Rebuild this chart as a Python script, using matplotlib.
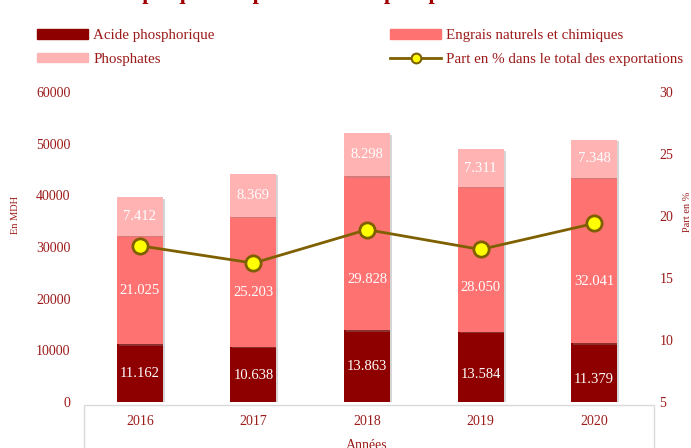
import numpy as np
import matplotlib.pyplot as plt
import matplotlib.patheffects as pe
from matplotlib.patches import Rectangle
from matplotlib.lines import Line2D

# ---- data ----
years = ["2016", "2017", "2018", "2019", "2020"]
acide = [11162, 10638, 13863, 13584, 11379]
engrais = [21025, 25203, 29828, 28050, 32041]
phosphates = [7412, 8369, 8298, 7311, 7348]
part_pct = [17.6, 16.2, 18.9, 17.3, 19.4]

labels = ["Acide phosphorique", "Engrais naturels et chimiques",
          "Phosphates", "Part en % dans le total des exportations"]

# label nudges (pixels, down = negative) - some labels were moved off the markers
nudge_acide = [0, -1, 0, -8, -7]
nudge_engrais = [0, -11, -26, -28, -21]
nudge_phos = [0, 0, 0, 0, 0]

# ---- style ----
plt.rcParams["font.family"] = ["Liberation Serif", "DejaVu Serif"]
TXT = "#9C1A1A"
C_ACIDE = "#8E0000"
C_ENGR = "#FF7272"
C_PHOS = "#FFB3B3"
C_LINE = "#7F6000"


def fmt(v):
    return f"{v:,}".replace(",", ".")


W, H = 691, 448
fig = plt.figure(figsize=(W / 100, H / 100), dpi=100)
ax = fig.add_axes([83 / W, 46 / H, (651 - 83) / W, (402 - 92) / H])

x = np.arange(len(years))
bw = 0.405
shadow = [pe.SimplePatchShadow(offset=(1.5, -1.0), shadow_rgbFace="#888888", alpha=0.35),
          pe.Normal()]

bottom = np.zeros(len(years))
for vals, col, nudge in [(acide, C_ACIDE, nudge_acide),
                         (engrais, C_ENGR, nudge_engrais),
                         (phosphates, C_PHOS, nudge_phos)]:
    bars = ax.bar(x, vals, bw, bottom=bottom, color=col, zorder=2)
    for b in bars:
        b.set_path_effects(shadow)
    for xi, v, b0, dy in zip(x, vals, bottom, nudge):
        ax.annotate(fmt(v), (xi, b0 + v / 2), xytext=(0, dy),
                    textcoords="offset pixels", ha="center", va="center",
                    color="white", fontsize=10.5, zorder=5)
    bottom = bottom + np.array(vals)

ax.set_xlim(-0.5, len(years) - 0.5)
ax.set_ylim(0, 60000)
ax.set_yticks(np.arange(0, 60001, 10000))
ax.set_xticks(x)
ax.set_xticklabels(years)
ax.tick_params(axis="both", length=0, colors=TXT, labelsize=10)
ax.tick_params(axis="y", pad=9)
ax.tick_params(axis="x", pad=9)
for s in ax.spines.values():
    s.set_visible(False)

ax2 = ax.twinx()
ax2.plot(x, part_pct, color=C_LINE, lw=2, marker="o", ms=11,
         mfc="#FFFF00", mec=C_LINE, mew=2, zorder=6)
ax2.set_ylim(5, 30)
ax2.set_yticks(np.arange(5, 31, 5))
ax2.tick_params(axis="y", length=0, colors=TXT, labelsize=10, pad=6)
for s in ax2.spines.values():
    s.set_visible(False)

# box around the category axis
fig.patches.append(Rectangle((84 / W, -0.05), (654 - 84) / W, 0.05 + 43 / H,
                             transform=fig.transFigure, fill=False,
                             ec="#D9D9D9", lw=1))

# axis titles
fig.text(15 / W, 1 - 215 / H, "En MDH", rotation=90, ha="center", va="center",
         color=TXT, fontsize=7.5)
fig.text(687 / W, 1 - 212 / H, "Part en %", rotation=90, ha="center", va="center",
         color=TXT, fontsize=7.5)
fig.text(367 / W, 1 - 439 / H, "Années", ha="center", va="top", color=TXT, fontsize=10)

# title (cut by the top edge, only descenders show)
fig.text(0.5, 1 + 0.5 / H, "Graphique : Exportations de phosphates et dérivés",
         ha="center", va="baseline", color="#A00000", fontsize=16, fontweight="bold")

# legend
handles = [
    Rectangle((0, 0), 1, 1, color=C_ACIDE),
    Rectangle((0, 0), 1, 1, color=C_PHOS),
    Rectangle((0, 0), 1, 1, color=C_ENGR),
    Line2D([], [], color=C_LINE, lw=2, marker="o", ms=7, mfc="#FFFF00",
           mec=C_LINE, mew=1.5),
]
leg = fig.legend(handles, [labels[0], labels[2], labels[1], labels[3]], ncol=2,
                 loc="upper left", bbox_to_anchor=(37 / W, 1 - 29 / H),
                 frameon=False, fontsize=10.8, handlelength=3.4, handleheight=0.6,
                 handletextpad=0.35, columnspacing=11.7, labelspacing=0.7,
                 borderpad=0, borderaxespad=0)
for t in leg.get_texts():
    t.set_color(TXT)

fig.savefig("out.png", dpi=100)
